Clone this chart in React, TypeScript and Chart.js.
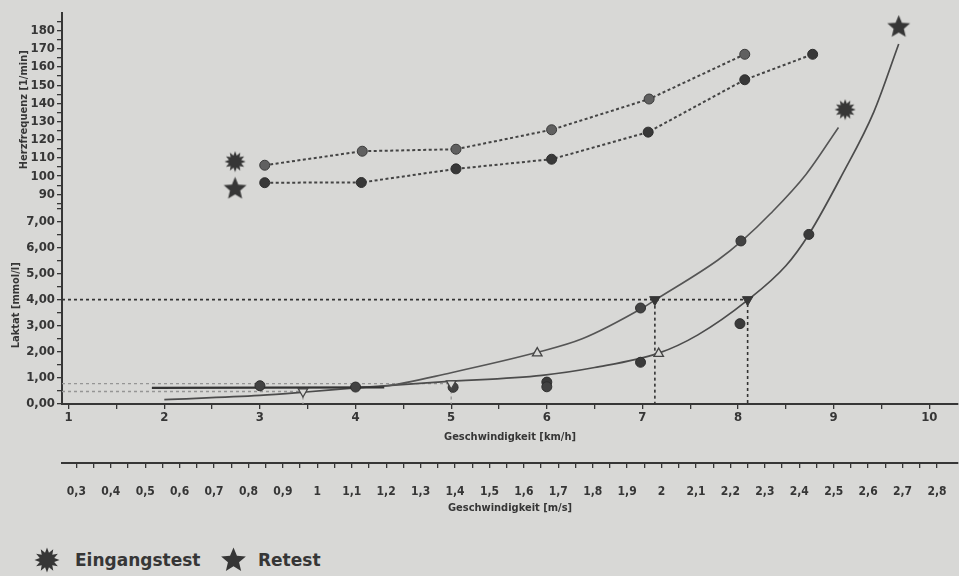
import React, { useEffect, useRef } from 'react';
import { Chart, registerables } from 'chart.js';

Chart.register(...registerables);

// ---------- axis ranges & tick labels ----------
const KMH_MIN = 0.93;
const KMH_MAX = 10.3;
const KMH_TICKS = [1, 2, 3, 4, 5, 6, 7, 8, 9, 10];
const MS_TICK_LABELS = ['0,3', '0,4', '0,5', '0,6', '0,7', '0,8', '0,9', '1', '1,1', '1,2', '1,3', '1,4', '1,5', '1,6', '1,7', '1,8', '1,9', '2', '2,1', '2,2', '2,3', '2,4', '2,5', '2,6', '2,7', '2,8'];
const HR_MIN = 83.3;
const HR_MAX = 189.7;
const HR_TICKS = [90, 100, 110, 120, 130, 140, 150, 160, 170, 180];
const LAC_MAX = 7.57;
const LAC_TICKS = [0, 1, 2, 3, 4, 5, 6, 7];

// ---------- heart rate (dotted lines) ----------
const HR_E_X = [3.05, 4.07, 5.05, 6.05, 7.07, 8.07];
const HR_E = [106, 113.7, 114.8, 125.5, 142.4, 167];
const HR_R_X = [3.05, 4.06, 5.05, 6.05, 7.06, 8.07, 8.78];
const HR_R = [96.4, 96.5, 104, 109.3, 124.2, 153, 167];

// ---------- symbol markers (heart rate axis) ----------
const MARK_E_X = [2.74, 9.12];
const MARK_E = [108, 136.6];
const MARK_R_X = [2.74, 9.68];
const MARK_R = [93, 182];

// ---------- lactate measurements ----------
const LAC_E_X = [3.0, 4.0, 5.02, 6.0, 6.98, 8.03];
const LAC_E = [0.7, 0.65, 0.64, 0.66, 3.68, 6.25];
const LAC_R_X = [6.0, 6.98, 8.02, 8.74];
const LAC_R = [0.84, 1.6, 3.08, 6.5];

// ---------- lactate curves ----------
const BASE_X = [1.87, 4.3];
const BASE = [0.62, 0.64];
const CURVE_E_X = [4.0, 4.3, 5.0, 5.9, 6.37, 7.0, 7.13, 7.79, 8.04, 8.34, 8.71, 9.05];
const CURVE_E = [0.63, 0.68, 1.2, 1.98, 2.5, 3.68, 3.98, 5.52, 6.25, 7.3, 8.8, 10.6];
const CURVE_R_X = [2.0, 3.0, 3.45, 4.0, 4.9, 5.95, 6.5, 7.17, 7.58, 8.1, 8.5, 8.74, 9.09, 9.42, 9.68];
const CURVE_R = [0.17, 0.33, 0.45, 0.62, 0.85, 1.1, 1.4, 1.95, 2.65, 3.98, 5.3, 6.5, 8.8, 11.2, 13.8];

// ---------- thresholds ----------
const THRESH_LEVEL = 4;
const THRESH_X = [7.13, 8.1];
const BASE_LEVELS = [0.78, 0.48];
const BASE_LEVEL_X = [5.0, 3.45];
const RISE_X = [5.9, 7.17];
const RISE = [1.95, 1.93];

const BG = '#d8d8d6';
const INK = '#363636';
const NARROW = "'Liberation Sans Narrow', 'DejaVu Sans Condensed', 'Liberation Sans', Arial, sans-serif";
const CANVAS_W = 971;

const pts = (xs: number[], ys: number[]) => xs.map((x, i) => ({ x, y: ys[i] }));

function starPoints(size: number, spikes: number, inner: number): [number, number][] {
  const c = size / 2;
  const ro = size / 2 - 0.5;
  const ri = ro * inner;
  const out: [number, number][] = [];
  for (let i = 0; i < spikes * 2; i++) {
    const r = i % 2 === 0 ? ro : ri;
    const a = -Math.PI / 2 + (i * Math.PI) / spikes;
    out.push([c + r * Math.cos(a), c + r * Math.sin(a)]);
  }
  return out;
}

function makeShape(size: number, spikes: number, inner: number, color: string) {
  const c = document.createElement('canvas');
  c.width = size;
  c.height = size;
  const ctx = c.getContext('2d')!;
  const p = starPoints(size, spikes, inner);
  ctx.beginPath();
  p.forEach(([x, y], i) => (i === 0 ? ctx.moveTo(x, y) : ctx.lineTo(x, y)));
  ctx.closePath();
  ctx.fillStyle = color;
  ctx.fill();
  return c;
}

function Icon({ size, spikes, inner }: { size: number; spikes: number; inner: number }) {
  const p = starPoints(size, spikes, inner).map(([x, y]) => `${x.toFixed(2)},${y.toFixed(2)}`).join(' ');
  return (
    <svg width={size} height={size} style={{ display: 'block' }}>
      <polygon points={p} fill={INK} />
    </svg>
  );
}

const tickFont = (size: number) => ({ family: NARROW, size, weight: 'bold' as const });

export default function App() {
  const ref = useRef<HTMLCanvasElement>(null);

  useEffect(() => {
    document.body.style.margin = '0';
    const burst = makeShape(22, 12, 0.6, INK);
    const star = makeShape(25, 5, 0.45, INK);
    const msValues = MS_TICK_LABELS.map((l) => parseFloat(l.replace(',', '.')));
    const msLast = msValues[msValues.length - 1];

    const lineDs = (data: any[], color: string, width: number, dash: number[] = [], extra: any = {}) => ({
      data,
      borderColor: color,
      borderWidth: width,
      borderDash: dash,
      pointRadius: 0,
      fill: false,
      tension: 0,
      clip: false,
      xAxisID: 'x',
      yAxisID: 'yLac',
      ...extra,
    });
    const pointDs = (data: any[], yAxisID: string, extra: any) => ({
      data,
      showLine: false,
      clip: false,
      xAxisID: 'x',
      yAxisID,
      pointBorderWidth: 1,
      ...extra,
    });

    const datasets: any[] = [
      pointDs(pts(MARK_E_X, MARK_E), 'yHR', { label: 'Eingangstest', pointStyle: burst, pointRadius: 11 }),
      pointDs(pts(MARK_R_X, MARK_R), 'yHR', { label: 'Retest', pointStyle: star, pointRadius: 12 }),
      pointDs(THRESH_X.map((x) => ({ x, y: THRESH_LEVEL })), 'yLac', {
        pointStyle: 'triangle', rotation: 180, pointRadius: 6, pointBackgroundColor: INK, pointBorderColor: INK,
      }),
      pointDs(pts(BASE_LEVEL_X, BASE_LEVELS), 'yLac', {
        pointStyle: 'triangle', rotation: 180, pointRadius: 5.5, pointBackgroundColor: BG, pointBorderColor: '#444', pointBorderWidth: 1.3,
      }),
      pointDs(pts(RISE_X, RISE), 'yLac', {
        pointStyle: 'triangle', rotation: 0, pointRadius: 5.5, pointBackgroundColor: BG, pointBorderColor: '#444', pointBorderWidth: 1.3,
      }),
      pointDs(pts(LAC_E_X, LAC_E), 'yLac', { pointRadius: 5, pointBackgroundColor: '#424242', pointBorderColor: '#2e2e2e' }),
      pointDs(pts(LAC_R_X, LAC_R), 'yLac', { pointRadius: 5, pointBackgroundColor: '#3a3a3a', pointBorderColor: '#2e2e2e' }),
      {
        data: pts(HR_E_X, HR_E), xAxisID: 'x', yAxisID: 'yHR', borderColor: '#444', borderWidth: 2, borderDash: [3, 2.5],
        pointRadius: 5, pointBackgroundColor: '#606060', pointBorderColor: '#3a3a3a', pointBorderWidth: 1, tension: 0, clip: false,
      },
      {
        data: pts(HR_R_X, HR_R), xAxisID: 'x', yAxisID: 'yHR', borderColor: '#444', borderWidth: 2, borderDash: [3, 2.5],
        pointRadius: 5, pointBackgroundColor: '#383838', pointBorderColor: '#2e2e2e', pointBorderWidth: 1, tension: 0, clip: false,
      },
      lineDs(pts(BASE_X, BASE), '#343434', 2.2),
      lineDs(pts(CURVE_E_X, CURVE_E), '#555', 1.6, [], { cubicInterpolationMode: 'monotone' }),
      lineDs(pts(CURVE_R_X, CURVE_R), '#4c4c4c', 1.7, [], { cubicInterpolationMode: 'monotone' }),
      lineDs([{ x: KMH_MIN, y: THRESH_LEVEL }, { x: THRESH_X[1], y: THRESH_LEVEL }, { x: THRESH_X[1], y: 0 }], '#333', 1.6, [3, 3]),
      lineDs([{ x: THRESH_X[0], y: THRESH_LEVEL }, { x: THRESH_X[0], y: 0 }], '#333', 1.6, [3, 3]),
      lineDs([{ x: KMH_MIN, y: BASE_LEVELS[0] }, { x: BASE_LEVEL_X[0], y: BASE_LEVELS[0] }, { x: BASE_LEVEL_X[0], y: 0 }], '#959595', 1.3, [3, 3]),
      lineDs([{ x: KMH_MIN, y: BASE_LEVELS[1] }, { x: BASE_LEVEL_X[1], y: BASE_LEVELS[1] }, { x: BASE_LEVEL_X[1], y: 0 }], '#959595', 1.3, [3, 3]),
    ];

    const grid = { drawOnChartArea: false, drawTicks: true, tickLength: 5, color: INK, lineWidth: 1.3 };
    const border = { display: true, color: INK, width: 2 };

    const chart = new Chart(ref.current!, {
      type: 'line',
      data: { datasets },
      options: {
        animation: false,
        responsive: false,
        maintainAspectRatio: false,
        events: [],
        layout: { padding: { top: 10, right: 0, left: 0, bottom: 0 } },
        plugins: { legend: { display: false }, tooltip: { enabled: false } },
        scales: {
          x: {
            type: 'linear', position: 'bottom', min: KMH_MIN, max: KMH_MAX, weight: 0,
            afterBuildTicks: (s: any) => {
              const t: any[] = [];
              KMH_TICKS.forEach((v) => { t.push({ value: v }); if (v + 0.5 <= KMH_MAX) t.push({ value: v + 0.5 }); });
              s.ticks = t;
            },
            afterFit: (s: any) => { s.height = 59; },
            ticks: {
              autoSkip: false, maxRotation: 0, padding: 1, color: INK, font: tickFont(13),
              callback: (v: any) => (KMH_TICKS.includes(v) ? String(v) : ''),
            },
            grid, border,
            title: { display: true, text: 'Geschwindigkeit [km/h]', color: INK, font: tickFont(11), padding: { top: 0, bottom: 19 } },
          },
          xms: {
            type: 'linear', position: 'bottom', min: KMH_MIN / 3.6, max: KMH_MAX / 3.6, weight: 1,
            afterBuildTicks: (s: any) => {
              const t: any[] = [];
              msValues.forEach((v) => { t.push({ value: v }); t.push({ value: v - 0.05 }); });
              s.ticks = t.filter((o) => o.value >= s.min && o.value <= msLast + 1e-9).sort((a, b) => a.value - b.value);
            },
            afterFit: (s: any) => { s.height = 77; },
            ticks: {
              autoSkip: false, maxRotation: 0, padding: 17, color: INK, font: tickFont(12),
              callback: (v: any) => {
                const i = msValues.findIndex((m) => Math.abs(m - v) < 1e-6);
                return i >= 0 ? MS_TICK_LABELS[i] : '';
              },
            },
            grid, border,
            title: { display: true, text: 'Geschwindigkeit [m/s]', color: INK, font: tickFont(11), padding: { top: 0, bottom: 25 } },
          },
          yLac: {
            type: 'linear', position: 'left', stack: 'y', stackWeight: 199, weight: 0, min: 0, max: LAC_MAX,
            afterBuildTicks: (s: any) => {
              const t: any[] = [];
              LAC_TICKS.forEach((v) => { t.push({ value: v }); t.push({ value: v + 0.5 }); });
              s.ticks = t.filter((o) => o.value <= LAC_MAX);
            },
            afterFit: (s: any) => { s.width = 62; },
            ticks: {
              autoSkip: false, padding: 2, color: INK, font: tickFont(13),
              callback: (v: any) => (LAC_TICKS.includes(v) ? v.toFixed(2).replace('.', ',') : ''),
            },
            grid, border,
            title: { display: true, text: 'Laktat [mmol/l]', color: INK, font: tickFont(11), padding: { top: 10, bottom: 0 } },
          },
          yHR: {
            type: 'linear', position: 'left', stack: 'y', stackWeight: 195, weight: 1, min: HR_MIN, max: HR_MAX,
            afterBuildTicks: (s: any) => {
              const t: any[] = [];
              HR_TICKS.forEach((v) => { t.push({ value: v - 5 }); });
              t.push({ value: 180 }, { value: 185 });
              HR_TICKS.forEach((v) => { if (v < 180) t.push({ value: v }); });
              s.ticks = t.filter((o) => o.value >= HR_MIN && o.value <= HR_MAX).sort((a, b) => a.value - b.value);
            },
            afterFit: (s: any) => { s.width = 62; },
            ticks: {
              autoSkip: false, padding: 2, color: INK, font: tickFont(13),
              callback: (v: any) => (HR_TICKS.includes(v) ? String(v) : ''),
            },
            grid, border,
            title: { display: true, text: 'Herzfrequenz [1/min]', color: INK, font: tickFont(11), padding: { top: 18, bottom: 0 } },
          },
        },
      } as any,
    });
    return () => chart.destroy();
  }, []);

  const legendText: React.CSSProperties = {
    position: 'absolute', top: 547, height: 26, lineHeight: '26px',
    fontFamily: "'DejaVu Sans', sans-serif", fontWeight: 'bold', fontSize: 17, color: INK, whiteSpace: 'nowrap',
  };

  return (
    <div style={{ position: 'relative', width: 959, height: 576, background: BG, overflow: 'hidden' }}>
      <canvas ref={ref} width={CANVAS_W} height={540} style={{ position: 'absolute', left: 0, top: 0, width: CANVAS_W, height: 540 }} />
      <div style={{ position: 'absolute', left: 34, top: 547 }}><Icon size={26} spikes={12} inner={0.6} /></div>
      <div style={{ ...legendText, left: 75 }}>Eingangstest</div>
      <div style={{ position: 'absolute', left: 220, top: 547 }}><Icon size={27} spikes={5} inner={0.45} /></div>
      <div style={{ ...legendText, left: 258 }}>Retest</div>
    </div>
  );
}
